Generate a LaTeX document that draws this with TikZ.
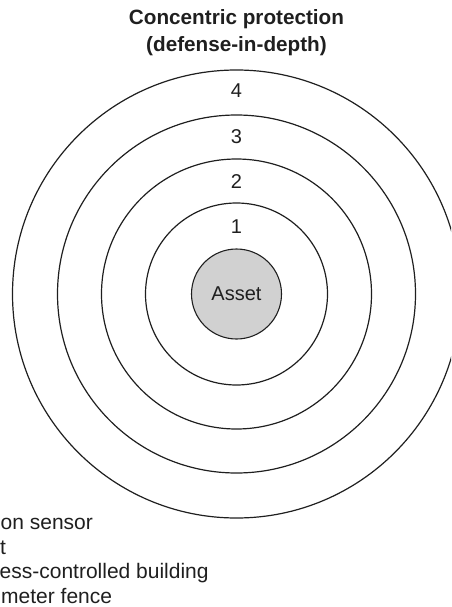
\documentclass[tikz,border=0pt]{standalone}
\usepackage{fontspec}
\setmainfont{Liberation Sans}
\begin{document}
\begin{tikzpicture}[x=1pt,y=-1pt,
  ring/.style={circle, draw=black!88, line width=1.2pt, inner sep=0pt, minimum size=#1},
  assetnode/.style={circle, draw=black!88, fill=black!18, line width=1.1pt, inner sep=0pt, minimum size=90pt},
  lbl/.style={font=\fontsize{20}{23}\selectfont, text=black!88, inner sep=0pt, anchor=base},
  legend/.style={font=\fontsize{21}{24}\selectfont, text=black!88, inner sep=0pt, anchor=base west},
  ttl/.style={font=\fontsize{20.7}{24}\bfseries\selectfont, text=black!88, inner sep=0pt, anchor=base}]
\path[use as bounding box, clip] (0,0) rectangle (451,607);
\coordinate (c) at (236.5,294);
\node[ring=448pt] (ring4) at (c) {};
\node[ring=358pt] (ring3) at (c) {};
\node[ring=270pt] (ring2) at (c) {};
\node[ring=182pt] (ring1) at (c) {};
\node[assetnode] (asset) at (c) {};
\node[lbl] (assetlbl) at (236.5,300.5) {Asset};
\node[lbl] (l4) at (236.5,98) {4};
\node[lbl] (l3) at (236.5,143) {3};
\node[lbl] (l2) at (236.5,188) {2};
\node[lbl] (l1) at (236.5,233) {1};
\node[ttl] (title1) at (236.5,25) {Concentric protection};
\node[ttl] (title2) at (236.5,52) {(defense-in-depth)};
\node[legend] (leg1) at (0.5,529.5) {on sensor};
\node[legend] (leg2) at (0,554) {t};
\node[legend] (leg3) at (-0.5,578.5) {ess-controlled building};
\node[legend] (leg4) at (1,603) {meter fence};
\end{tikzpicture}
\end{document}
